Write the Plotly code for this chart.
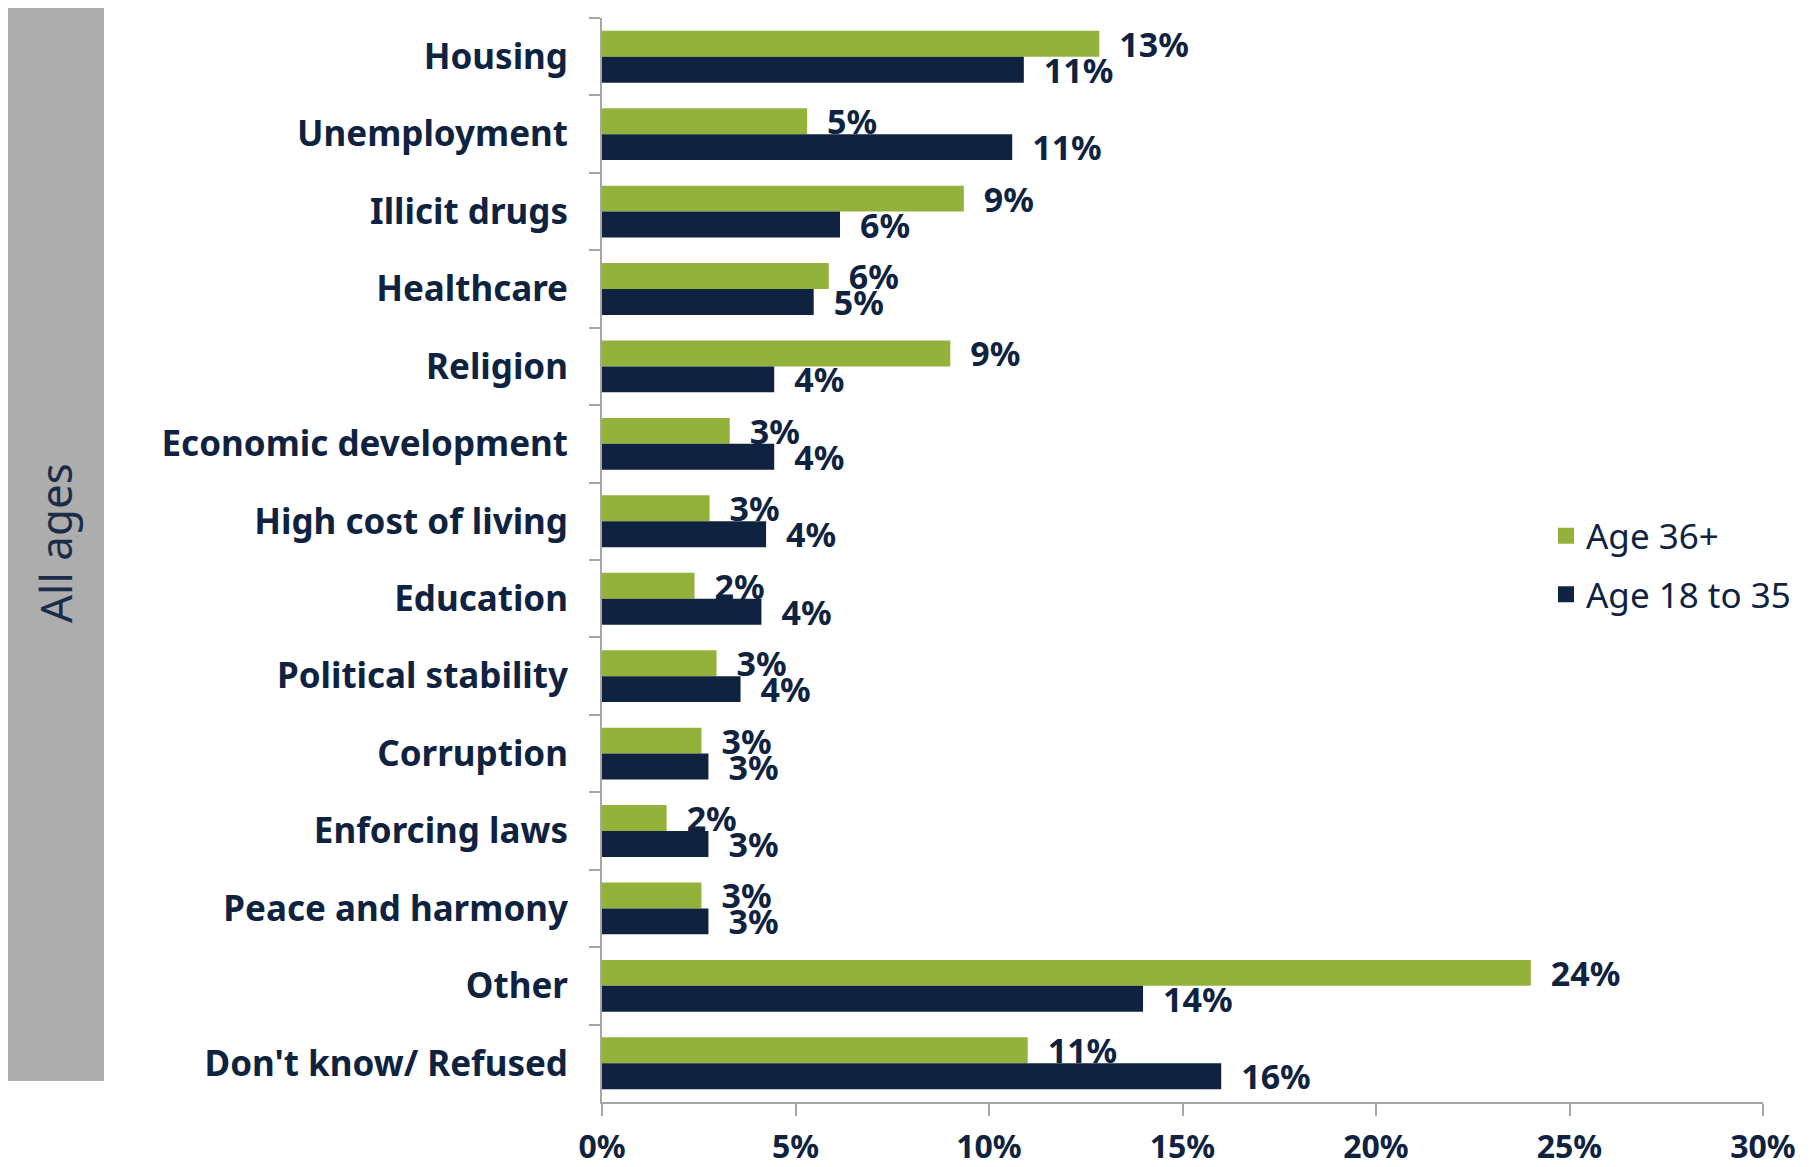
import plotly.graph_objects as go

categories = ["Housing", "Unemployment", "Illicit drugs", "Healthcare", "Religion",
              "Economic development", "High cost of living", "Education",
              "Political stability", "Corruption", "Enforcing laws",
              "Peace and harmony", "Other", "Don't know/ Refused"]
age_36_plus = [12.85, 5.3, 9.35, 5.86, 9.0, 3.3, 2.78, 2.39, 2.96, 2.57, 1.67, 2.57, 24.0, 11.0]
age_18_35 = [10.9, 10.6, 6.15, 5.47, 4.45, 4.45, 4.24, 4.12, 3.58, 2.75, 2.75, 2.75, 13.98, 16.0]
labels_36_plus = ["13%", "5%", "9%", "6%", "9%", "3%", "3%", "2%", "3%", "3%", "2%", "3%", "24%", "11%"]
labels_18_35 = ["11%", "11%", "6%", "5%", "4%", "4%", "4%", "4%", "4%", "3%", "3%", "3%", "14%", "16%"]
x_ticks = [0, 5, 10, 15, 20, 25, 30]
x_tick_text = ["0%", "5%", "10%", "15%", "20%", "25%", "30%"]

NAVY = "#0f2340"
GREEN = "#93b23c"
GREY_LINE = "#a6a6a6"
FONT = "Noto Sans"

# page has an 8px body margin, so the figure starts at (8, 8)
OFF = 8
W, H = 1813, 1167
L, T = 602 - OFF, 18 - OFF
R = W - (1763 - OFF)
B = H - (1102 - OFF)
plot_w, plot_h = W - L - R, H - T - B


def px_to_paper_x(px):
    return (px - OFF - L) / plot_w


def px_to_paper_y(py):
    return 1 - (py - OFF - T) / plot_h


fig = go.Figure()

series = [
    ("Age 36+", age_36_plus, labels_36_plus, GREEN, "a"),
    ("Age 18 to 35", age_18_35, labels_18_35, NAVY, "b"),
]

for name, vals, labels, color, grp in series:
    fig.add_trace(go.Bar(
        y=categories, x=vals, orientation="h", name=name,
        marker=dict(color=color, line=dict(width=0)),
        text=labels, texttemplate="\u2002%{text}", textposition="outside",
        textfont=dict(family=FONT, size=34, color=NAVY, weight="bold"),
        constraintext="none", cliponaxis=False, legendgroup=grp, showlegend=False,
    ))

# legend-only entries so the key squares can be larger than the bar icon
for name, vals, labels, color, grp in series:
    fig.add_trace(go.Scatter(
        x=[None], y=[None], mode="markers", name=name, legendgroup=grp,
        marker=dict(symbol="square", size=20, color=color),
    ))

fig.update_layout(
    width=W, height=H,
    margin=dict(l=L, r=R, t=T, b=B, autoexpand=False),
    plot_bgcolor="white", paper_bgcolor="white",
    barmode="group", bargap=0.33, bargroupgap=0,
    font=dict(family=FONT, color=NAVY),
    legend=dict(
        x=px_to_paper_x(1546), y=px_to_paper_y(565), xanchor="left", yanchor="middle",
        font=dict(family=FONT, size=35, color=NAVY),
        tracegroupgap=10, bgcolor="rgba(0,0,0,0)", itemwidth=30,
    ),
    showlegend=True,
)

fig.update_yaxes(
    type="category", categoryorder="array", categoryarray=categories,
    range=[len(categories) - 0.5, -0.5], automargin=False,
    showline=True, linecolor=GREY_LINE, linewidth=2,
    ticks="outside", tickson="boundaries", ticklen=11, tickcolor=GREY_LINE, tickwidth=2,
    ticklabelstandoff=25,
    tickfont=dict(family=FONT, size=35, color=NAVY, weight="bold"),
    showgrid=False,
)
fig.update_xaxes(
    range=[0, 30], tickmode="array", tickvals=x_ticks, ticktext=x_tick_text,
    automargin=False,
    showline=True, linecolor=GREY_LINE, linewidth=2,
    ticks="outside", ticklen=12, tickcolor=GREY_LINE, tickwidth=2,
    ticklabelstandoff=4,
    tickfont=dict(family=FONT, size=32, color=NAVY, weight="bold"),
    showgrid=False, zeroline=False,
)

# grey side panel with rotated label
fig.add_shape(type="rect", xref="paper", yref="paper",
              x0=px_to_paper_x(7), x1=px_to_paper_x(104),
              y0=px_to_paper_y(1081), y1=px_to_paper_y(6),
              fillcolor="#adadad", line=dict(width=0), layer="below")
fig.add_annotation(text="All ages", xref="paper", yref="paper",
                   x=px_to_paper_x(55), y=px_to_paper_y(543),
                   xanchor="center", yanchor="middle",
                   textangle=-90, showarrow=False,
                   font=dict(family=FONT, size=44, color="#1a2c48"))

fig.write_html("out.html")
